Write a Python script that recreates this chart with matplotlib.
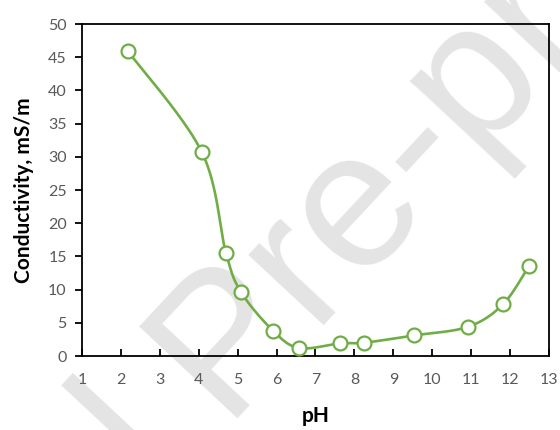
import matplotlib
matplotlib.use('Agg')
import matplotlib.pyplot as plt
import numpy as np

# values
ph = [2.18, 4.08, 4.70, 5.09, 5.91, 6.58, 7.63, 8.25, 9.53, 10.92, 11.82, 12.49]
cond = [45.9, 30.7, 15.5, 9.6, 3.8, 1.2, 1.9, 2.0, 3.1, 4.4, 7.8, 13.6]

green = '#70AD47'
grey = '#595959'


def smooth(xs, ys, n=40):
    # excel-like smoothed line: catmull-rom bezier through the points
    p = np.column_stack([xs, ys])
    p = np.vstack([p[0], p, p[-1]])
    out = []
    for i in range(1, len(p) - 2):
        p0, p1, p2, p3 = p[i - 1], p[i], p[i + 1], p[i + 2]
        c1 = p1 + (p2 - p0) / 6.0
        c2 = p2 - (p3 - p1) / 6.0
        t = np.linspace(0, 1, n)[:, None]
        b = ((1 - t) ** 3) * p1 + 3 * ((1 - t) ** 2) * t * c1 + 3 * (1 - t) * t ** 2 * c2 + t ** 3 * p2
        out.append(b)
    b = np.vstack(out)
    return b[:, 0], b[:, 1]


plt.rcParams['font.family'] = ['Lato', 'DejaVu Sans']

fig = plt.figure(figsize=(5.6, 4.3), dpi=100)
ax = fig.add_axes([82 / 560, 1 - 356 / 430, (549 - 82) / 560, (356 - 24) / 430])
ax.patch.set_alpha(0)

# watermark, partly outside the picture like in the original
wm = dict(fontsize=140, color='#E4E4E4', rotation=47, rotation_mode='anchor',
          va='baseline', family='Liberation Sans', zorder=-10)
fig.text(222 / 560, 1 - 418 / 430, 'Pre-proof', ha='left', **wm)
fig.text(185 / 560, 1 - 457 / 430, 'Journal', ha='right', **wm)

sx, sy = smooth(ph, cond)
ax.plot(sx, sy, color=green, lw=1.9, zorder=3)
ax.plot(ph, cond, 'o', ms=10, mfc='white', mec=green, mew=1.6, zorder=4, clip_on=False)

ax.set_xlim(1, 13)
ax.set_ylim(0, 50)
ax.set_xticks(range(1, 14))
ax.set_yticks(range(0, 51, 5))

for s in ax.spines.values():
    s.set_linewidth(1.3)
    s.set_color('black')

ax.tick_params(axis='x', direction='in', length=5, width=1.3, pad=12,
               labelsize=11.5, labelcolor=grey)
ax.tick_params(axis='y', direction='out', length=5, width=1.3, pad=6,
               labelsize=11.5, labelcolor=grey)

ax.set_xlabel('pH', fontsize=15, fontweight='bold', labelpad=14)
ax.set_ylabel('Conductivity, mS/m', fontsize=15, fontweight='bold', labelpad=10)

fig.savefig('out.png', dpi=100)
